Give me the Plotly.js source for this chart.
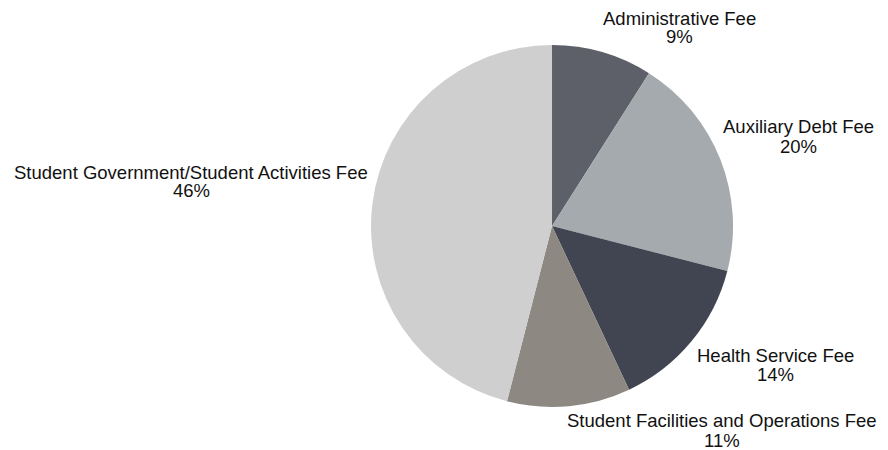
<!DOCTYPE html>
<html>
<head>
<meta charset="utf-8">
<script src="https://cdn.plot.ly/plotly-3.0.1.min.js"></script>
<style>html,body{margin:0;padding:0;background:#fff;}#chart{width:888px;height:450px;}</style>
</head>
<body>
<div id="chart"></div>
<script>
// ---- data ----
const categories = [
  "Administrative Fee",
  "Auxiliary Debt Fee",
  "Health Service Fee",
  "Student Facilities and Operations Fee",
  "Student Government/Student Activities Fee"
];
const shares = [9, 20, 14, 11, 46];

// ---- styling / layout ----
const sliceColors = ["#5d6068", "#a4aaad", "#414552", "#8e8882", "#cfcfcf"];
const W = 888, H = 450;
// label centres (pixels): [x, y of name line, y of percent line]
const labelSpots = [
  [679, 18, 37],
  [798, 127, 146],
  [775, 355, 374],
  [722, 420, 440],
  [191, 172, 191]
];
const fontSpec = { family: "Liberation Sans, Arial, sans-serif", size: 18.5, color: "#111111" };

const trace = {
  type: "pie",
  labels: categories,
  values: shares,
  sort: false,
  direction: "clockwise",
  rotation: 0,
  marker: { colors: sliceColors, line: { width: 0 } },
  textinfo: "none",
  hoverinfo: "label+percent",
  domain: { x: [0.4178, 0.8255], y: [0.0956, 0.9] },
  automargin: false
};

const total = shares.reduce((a, b) => a + b, 0);
const annotations = [];
categories.forEach((name, i) => {
  const [px, py1, py2] = labelSpots[i];
  const pct = Math.round(shares[i] / total * 100) + "%";
  annotations.push({
    xref: "paper", yref: "paper", x: px / W, y: 1 - py1 / H,
    xanchor: "center", yanchor: "middle", showarrow: false,
    text: name, font: fontSpec
  });
  annotations.push({
    xref: "paper", yref: "paper", x: px / W, y: 1 - py2 / H,
    xanchor: "center", yanchor: "middle", showarrow: false,
    text: pct, font: fontSpec
  });
});

const layout = {
  width: W,
  height: H,
  margin: { l: 0, r: 0, t: 0, b: 0 },
  showlegend: false,
  paper_bgcolor: "#ffffff",
  font: fontSpec,
  annotations: annotations
};

Plotly.newPlot("chart", [trace], layout, { displayModeBar: false, staticPlot: true });
</script>
</body>
</html>
